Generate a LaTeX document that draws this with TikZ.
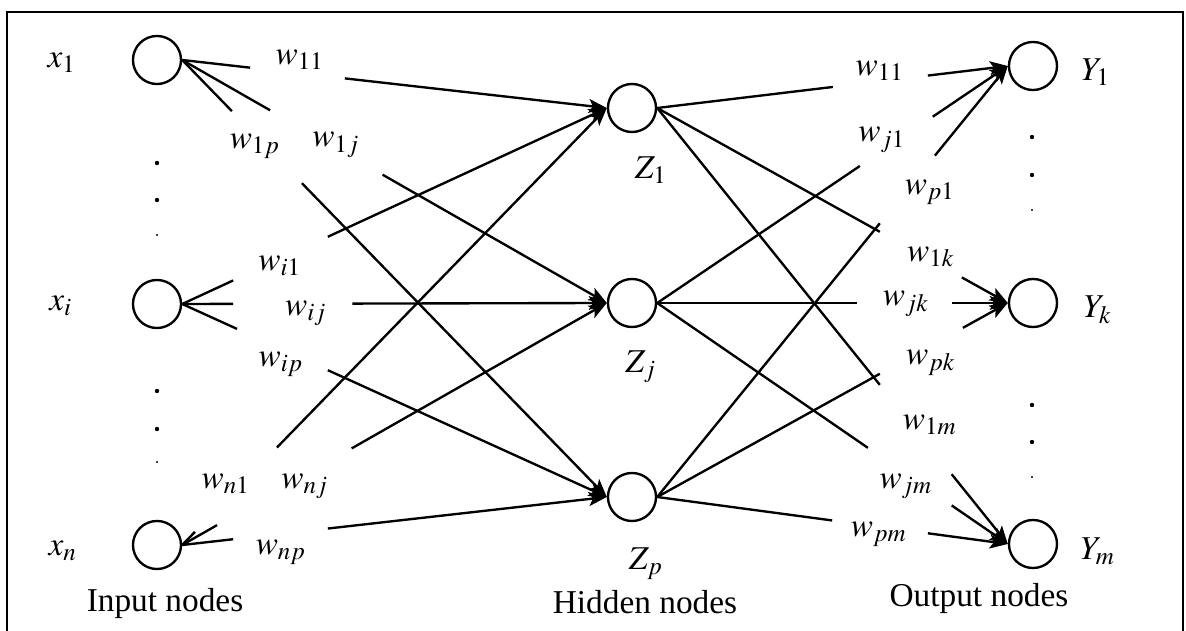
\documentclass[tikz,border=0pt]{standalone}
\usepackage{mathptmx}
\usepackage[no-math]{fontspec}
\setmainfont{Liberation Serif}
\usetikzlibrary{arrows.meta}

% weight line with a gap for its label
\newcommand{\wconn}[4]{%
\path (#1.east) -- (#2.west) coordinate[pos=#3] (ga) coordinate[pos=#4] (gb);
\draw (#1.east) -- (ga);
\draw[-{Stealth[length=6.5pt,width=5pt,inset=1.5pt]}] (gb) -- (#2.west);
}

\begin{document}
\begin{tikzpicture}[x=0.36pt,y=-0.36pt,line width=0.85pt,
  every node/.style={font=\fontsize{12}{14}\selectfont},
  neuron/.style={draw,circle,minimum size=17.3pt,inner sep=0pt}]
\useasboundingbox (0,0) rectangle (1186,631);
\draw (7,631) -- (7,12) -- (1183,12) -- (1183,631);

\node[neuron] (x1) at (157,60) {};
\node[neuron] (xi) at (157,304) {};
\node[neuron] (xn) at (157,545) {};
\node[neuron] (z1) at (632,108) {};
\node[neuron] (zj) at (632,303) {};
\node[neuron] (zp) at (632,497) {};
\node[neuron] (y1) at (1033,66) {};
\node[neuron] (yk) at (1033,303) {};
\node[neuron] (ym) at (1033,544) {};

\node (tx1) at (62,63) {$x_1$};
\node (txi) at (61,306) {$x_i$};
\node (txn) at (63,551) {$x_n$};
\node (tz1) at (651,170) {$Z_1$};
\node (tzj) at (641,367) {$Z_j$};
\node (tzp) at (646,564) {$Z_p$};
\node (ty1) at (1096,72) {$Y_1$};
\node (tyk) at (1098,310) {$Y_k$};
\node (tym) at (1098,551) {$Y_m$};

\node (inp) at (165,603) {Input nodes};
\node (hid) at (645,602) {Hidden nodes};
\node (out) at (979,598) {Output nodes};

% vertical dots
\foreach \y in {163,200,391,429} \fill (157,\y) circle (2.2);
\foreach \y in {137,175,405,442} \fill (1032,\y) circle (2.2);
\foreach \y in {235,462} \fill (157,\y) circle (1.1);
\foreach \y in {210,477} \fill (1032,\y) circle (1.1);

% input -> hidden
\wconn{x1}{z1}{0.16}{0.383}
\wconn{x1}{zj}{0.207}{0.472}
\wconn{x1}{zp}{0.117}{0.282}
\wconn{xi}{z1}{0.12}{0.343}
\wconn{xi}{zj}{0.12}{0.401}
\wconn{xi}{zp}{0.129}{0.343}
\wconn{xn}{z1}{0.03}{0.223}
\wconn{xn}{zj}{0.082}{0.399}
\wconn{xn}{zp}{0.12}{0.343}

% hidden -> output
\wconn{z1}{y1}{0.501}{0.772}
\wconn{zj}{y1}{0.578}{0.786}
\wconn{zp}{y1}{0.635}{0.792}
\wconn{z1}{yk}{0.635}{0.869}
\wconn{zj}{yk}{0.57}{0.84}
\wconn{zp}{yk}{0.635}{0.872}
\wconn{z1}{ym}{0.635}{0.84}
\wconn{zj}{ym}{0.601}{0.84}
\wconn{zp}{ym}{0.499}{0.772}

\node (w11) at (300,60) {$w_{11}$};
\node (w1p) at (255,146) {$w_{1p}$};
\node (w1j) at (336,145) {$w_{1j}$};
\node (wi1) at (280,266) {$w_{i1}$};
\node (wij) at (306,313) {$w_{ij}$};
\node (wip) at (281,364) {$w_{ip}$};
\node (wn1) at (226,484) {$w_{n1}$};
\node (wnj) at (305,486) {$w_{nj}$};
\node (wnp) at (281,552) {$w_{np}$};

\node (v11) at (880,71) {$w_{11}$};
\node (vj1) at (882,140) {$w_{j1}$};
\node (vp1) at (930,192) {$w_{p1}$};
\node (v1k) at (931,257) {$w_{1k}$};
\node (vjk) at (906,304) {$w_{jk}$};
\node (vpk) at (931,363) {$w_{pk}$};
\node (v1m) at (930,425) {$w_{1m}$};
\node (vjm) at (906,486) {$w_{jm}$};
\node (vpm) at (879,534) {$w_{pm}$};
\end{tikzpicture}
\end{document}
